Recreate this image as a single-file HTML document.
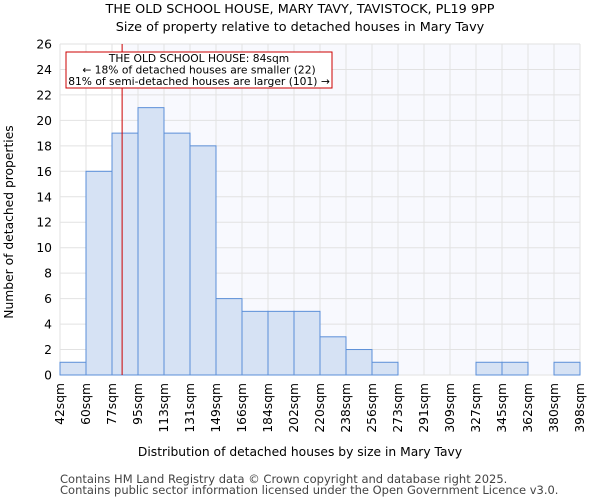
<!DOCTYPE html>
<html><head><meta charset="utf-8"><style>
body{margin:0;background:#fff;font-family:"DejaVu Sans","Liberation Sans",sans-serif}
</style></head><body>
<svg id="chart" width="600" height="500" xmlns="http://www.w3.org/2000/svg" font-family="DejaVu Sans, Liberation Sans, sans-serif">
<text x="300" y="13" text-anchor="middle" font-size="12.8">THE OLD SCHOOL HOUSE, MARY TAVY, TAVISTOCK, PL19 9PP</text>
<text x="300" y="31" text-anchor="middle" font-size="12.8">Size of property relative to detached houses in Mary Tavy</text>
<g id="plot"></g>
<text x="300" y="456" text-anchor="middle" font-size="12.3">Distribution of detached houses by size in Mary Tavy</text>
<text transform="translate(13,222) rotate(-90)" text-anchor="middle" font-size="12.3">Number of detached properties</text>
<text x="60" y="483" font-size="11.5" fill="#444">Contains HM Land Registry data © Crown copyright and database right 2025.</text>
<text x="60" y="494" font-size="11.5" fill="#444">Contains public sector information licensed under the Open Government Licence v3.0.</text>
</svg>
<script>
const binLabels=["42sqm","60sqm","77sqm","95sqm","113sqm","131sqm","149sqm","166sqm","184sqm","202sqm","220sqm","238sqm","256sqm","273sqm","291sqm","309sqm","327sqm","345sqm","362sqm","380sqm","398sqm"];
const binEdges=[42,60,77,95,113,131,149,166,184,202,220,238,256,273,291,309,327,345,362,380,398];
const counts=[1,16,19,21,19,18,6,5,5,5,3,2,1,0,0,0,1,1,0,1];
const yTicks=[0,2,4,6,8,10,12,14,16,18,20,22,24,26];
const propertySize=84;
const NS="http://www.w3.org/2000/svg";
const g=document.getElementById('plot');
const X0=60,X1=580,Y0=375,Y1=44,yMax=26;
const nb=counts.length,bw=(X1-X0)/nb;
const xi=i=>X0+i*bw;
const xv=v=>{for(let i=0;i<nb;i++){if(v<=binEdges[i+1])return xi(i)+bw*(v-binEdges[i])/(binEdges[i+1]-binEdges[i]);}return X1;};
const y=v=>Y0-(Y0-Y1)*v/yMax;
function mk(t,a){const e=document.createElementNS(NS,t);for(const k in a)e.setAttribute(k,a[k]);g.appendChild(e);return e;}
const px=xv(propertySize);
let e=mk('rect',{x:X0,y:Y1,width:X1-X0,height:Y0-Y1,fill:'#fff'});


e=mk('rect',{x:px,y:Y1,width:X1-px,height:Y0-Y1,fill:'#f8f9fe'});


yTicks.forEach(t=>{
 e=mk('line',{x1:X0,x2:X1,y1:y(t),y2:y(t),stroke:'#e2e2e2','stroke-width':1});
 
 
 e=mk('text',{x:X0-8,y:y(t)+4.5,'text-anchor':'end','font-size':12.3});
 e.textContent=t;
 
 
});
for(let i=0;i<=nb;i++){
 e=mk('line',{x1:xi(i),x2:xi(i),y1:Y1,y2:Y0,stroke:'#e2e2e2','stroke-width':1});
 
 
}
counts.forEach((c,i)=>{
 if(c<=0)return;
 e=mk('rect',{x:xi(i),y:y(c),width:bw,height:Y0-y(c),fill:'#d6e2f4',stroke:'#5b8fd8','stroke-width':1});
 
 
});
binLabels.forEach((l,i)=>{
 e=mk('text',{transform:`translate(${xi(i)+4},${Y0+8}) rotate(-90)`,'text-anchor':'end','font-size':12.3});
 e.textContent=l;
 
 
});
e=mk('line',{x1:px,x2:px,y1:Y1,y2:Y0,stroke:'#cc0000','stroke-width':1});


e=mk('rect',{x:66,y:52,width:266,height:36,fill:'#fff',stroke:'#cc0000','stroke-width':1});


["THE OLD SCHOOL HOUSE: "+propertySize+"sqm","← 18% of detached houses are smaller (22)","81% of semi-detached houses are larger (101) →"].forEach((s,i)=>{
 e=mk('text',{x:199,y:62+i*11.5,'text-anchor':'middle','font-size':10.7});
 e.textContent=s;
 
 
});
</script>
</body></html>
